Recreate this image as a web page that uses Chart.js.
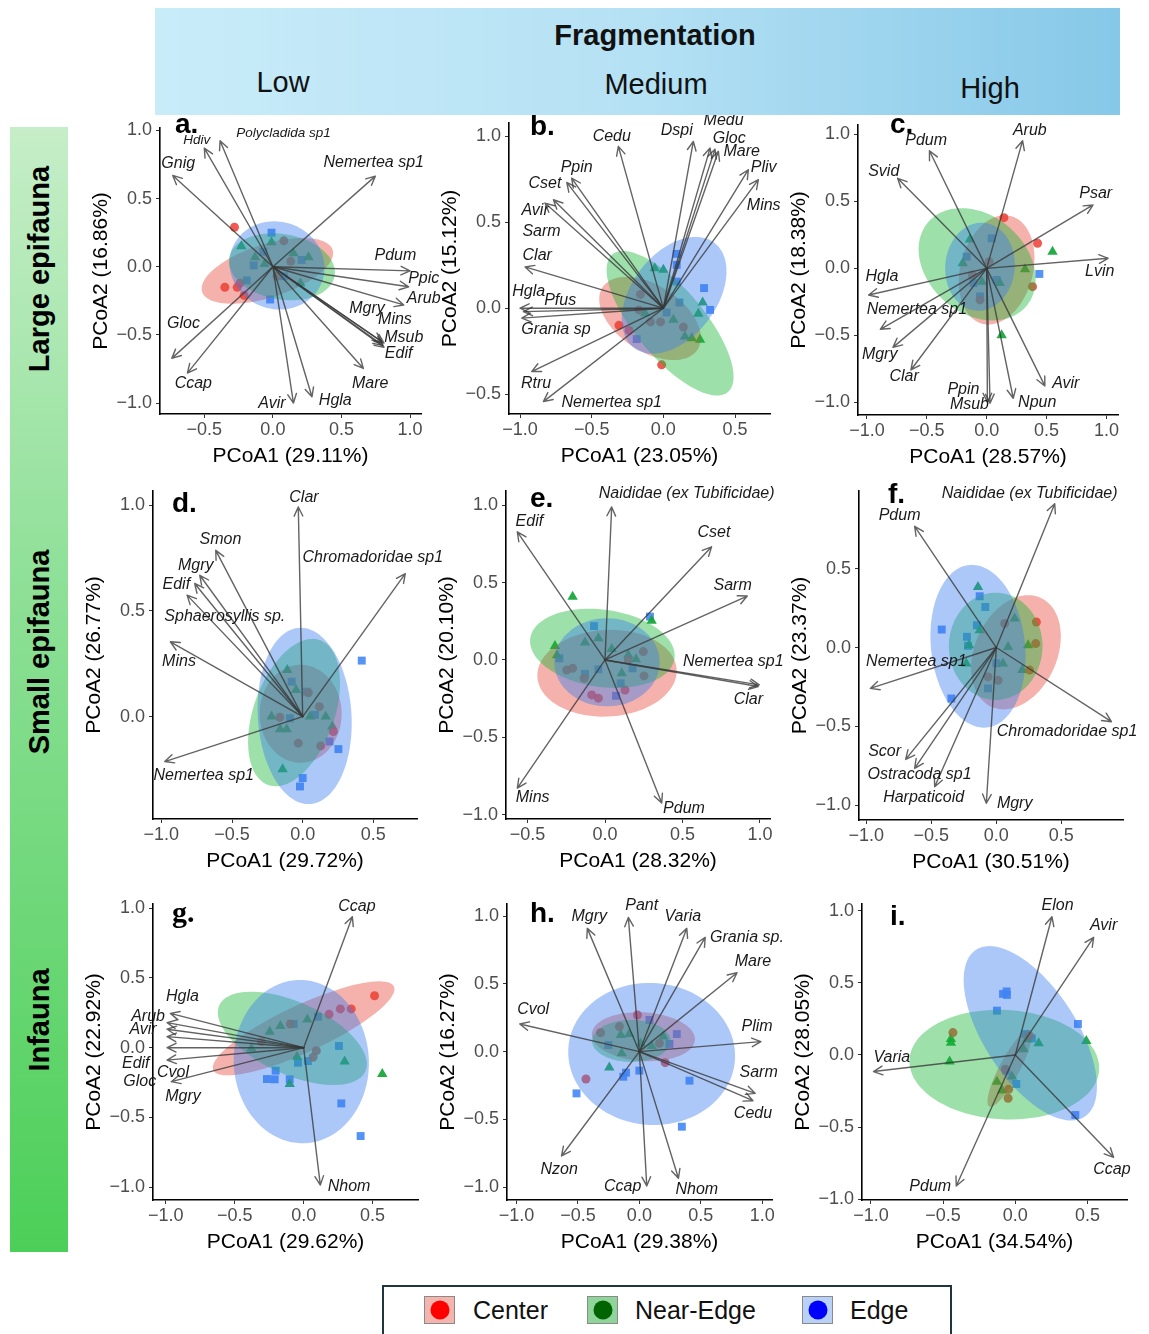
<!DOCTYPE html>
<html><head><meta charset="utf-8">
<script src="https://cdn.jsdelivr.net/npm/chart.js@4.4.1/dist/chart.umd.min.js"></script>
<style>
html,body{margin:0;padding:0;background:#fff;width:1149px;height:1334px;overflow:hidden;position:relative;font-family:"Liberation Sans",Arial,sans-serif}
canvas{position:absolute}
#banner{position:absolute;left:155px;top:8px;width:965px;height:107px;background:linear-gradient(90deg,#c9ecf9 0%,#b5e1f4 50%,#86c8e8 100%);z-index:10}
.hd{position:absolute;white-space:nowrap;transform:translateX(-50%);color:#111;line-height:29px;font-size:29px}
#side{position:absolute;left:10px;top:127px;width:58px;height:1125px;background:linear-gradient(180deg,#c6eec8 0%,#8fe098 40%,#4ccf58 100%);z-index:10}
.sl{position:absolute;left:29px;white-space:nowrap;font-weight:bold;font-size:29px;color:#000;transform:translate(-50%,-50%) rotate(-90deg);line-height:30px}
#legend{position:absolute;left:382px;top:1285px;width:566px;height:70px;border:2px solid #1f3540;background:#fff;z-index:10}
.sw{position:absolute;top:9px;width:31px;height:28px;border:1px solid #8a8a8a;box-sizing:border-box}
.sw i{position:absolute;left:50%;top:50%;width:19px;height:19px;border-radius:50%;transform:translate(-50%,-50%)}
.lt{position:absolute;top:8px;font-size:25px;line-height:30px;color:#111}
</style></head>
<body>
<div id="banner">
  <div class="hd" style="left:500px;top:13px;font-weight:bold">Fragmentation</div>
  <div class="hd" style="left:128px;top:60px">Low</div>
  <div class="hd" style="left:501px;top:62px">Medium</div>
  <div class="hd" style="left:835px;top:66px">High</div>
</div>
<div id="side">
  <div class="sl" style="top:142px">Large epifauna</div>
  <div class="sl" style="top:525px">Small epifauna</div>
  <div class="sl" style="top:893px">Infauna</div>
</div>
<div id="legend">
  <span class="sw" style="left:40px;background:#f5b5af"><i style="background:#ff0000"></i></span><span class="lt" style="left:89px">Center</span>
  <span class="sw" style="left:203px;background:#8fd49b"><i style="background:#006400"></i></span><span class="lt" style="left:251px">Near-Edge</span>
  <span class="sw" style="left:418px;background:#b9d1f6"><i style="background:#0000ff"></i></span><span class="lt" style="left:466px">Edge</span>
</div>
<script>
// ---------- DATA ----------
const groups = ["Center","Near-Edge","Edge"];

// Panel a
const centerA = [[-0.28,0.29],[-0.35,-0.15],[-0.26,-0.15],[-0.21,-0.21],[-0.24,-0.12],[0.08,0.19],[0.13,0.04],[0.03,-0.07]];
const nearEdgeA = [[-0.23,0.15],[-0.13,0.07],[-0.01,0.18],[0.15,0.10],[0.26,0.07],[-0.06,0.02],[0.20,-0.12]];
const edgeA = [[-0.01,0.25],[-0.07,0.11],[-0.14,0.01],[-0.19,-0.10],[-0.02,-0.24],[0.21,0.05],[0.08,-0.07]];
const speciesA = ["Hdiv","Polycladida sp1","Gnig","Nemertea sp1","Pdum","Ppic","Arub","Mgry","Mins","Msub","Edif","Mare","Hgla","Avir","Ccap","Gloc"];
const tipsA = [[-0.50,0.87],[-0.385,0.924],[-0.73,0.67],[0.747,0.665],[1.0,-0.03],[0.99,-0.147],[0.954,-0.28],[0.795,-0.55],[0.81,-0.56],[0.80,-0.575],[0.81,-0.59],[0.66,-0.746],[0.285,-0.954],[0.15,-1.0],[-0.623,-0.78],[-0.737,-0.672]];
const labelPosA = [[-0.555,0.93],[0.078,0.98],[-0.69,0.76],[0.735,0.763],[0.893,0.08],[1.10,-0.085],[1.10,-0.23],[0.686,-0.306],[0.89,-0.386],[0.954,-0.518],[0.917,-0.636],[0.71,-0.856],[0.455,-0.98],[-0.007,-1.0],[-0.58,-0.856],[-0.652,-0.416]];
const ellipsesA = [[-0.04,-0.03,0.50,0.195,18],[0.066,0.0,0.39,0.24,-10],[0.03,0.01,0.35,0.32,-20]];
const xTicksA = [-0.5,0,0.5,1.0], yTicksA = [-1,-0.5,0,0.5,1];
const xTitleA = "PCoA1 (29.11%)", yTitleA = "PCoA2 (16.86%)";

// Panel b
const centerB = [[-0.012,-0.33],[-0.31,-0.10],[-0.24,-0.13],[-0.16,0.08],[-0.09,-0.08],[-0.02,-0.08],[0.14,-0.11],[-0.17,-0.01]];
const nearEdgeB = [[-0.06,0.233],[0.0,0.223],[0.07,-0.068],[0.244,-0.033],[0.274,0.033],[0.15,-0.165],[0.198,-0.175],[0.256,-0.184],[-0.128,-0.03]];
const edgeB = [[0.093,0.316],[0.093,0.252],[0.093,0.155],[0.284,0.117],[0.112,0.033],[0.326,-0.01],[0.023,-0.025],[-0.186,-0.18]];
const speciesB = ["Cedu","Dspi","Medu","Gloc","Mare","Pliv","Mins","Ppin","Cset","Avir","Sarm","Clar","Hgla","Pfus","Grania sp","Rtru","Nemertea sp1"];
const tipsB = [[-0.314,0.942],[0.209,0.971],[0.326,0.932],[0.36,0.926],[0.384,0.913],[0.593,0.806],[0.663,0.748],[-0.64,0.757],[-0.674,0.732],[-0.767,0.631],[-0.826,0.612],[-0.965,0.24],[-1.0,0.0],[-0.977,-0.02],[-0.988,-0.058],[-0.919,-0.369],[-0.837,-0.544]];
const labelPosB = [[-0.36,1.0],[0.093,1.035],[0.42,1.09],[0.46,0.99],[0.547,0.913],[0.70,0.816],[0.70,0.596],[-0.605,0.816],[-0.826,0.724],[-0.895,0.567],[-0.85,0.447],[-0.88,0.307],[-0.94,0.097],[-0.72,0.045],[-0.75,-0.126],[-0.888,-0.437],[-0.36,-0.55]];
const ellipsesB = [[-0.093,-0.06,0.38,0.2,-25],[0.047,-0.088,0.57,0.22,-43],[0.075,0.075,0.42,0.27,40]];
const xTicksB = [-1,-0.5,0,0.5], yTicksB = [-0.5,0,0.5,1];
const xTitleB = "PCoA1 (23.05%)", yTitleB = "PCoA2 (15.12%)";

// Panel c
const centerC = [[0.144,0.378],[0.425,0.187],[0.383,-0.137],[-0.056,-0.236],[0.02,0.05],[-0.12,-0.05]];
const nearEdgeC = [[0.55,0.124],[0.32,-0.007],[0.125,-0.5],[-0.2,0.037],[-0.14,0.216],[-0.04,-0.1],[0.11,-0.11]];
const edgeC = [[0.44,-0.042],[0.042,0.224],[-0.167,0.087],[-0.11,-0.11],[-0.056,-0.21],[0.083,-0.087]];
const speciesC = ["Arub","Pdum","Svid","Psar","Lvin","Hgla","Nemertea sp1","Mgry","Clar","Ppin","Msub","Npun","Avir"];
const tipsC = [[0.30,0.953],[-0.478,0.878],[-0.744,0.672],[0.889,0.473],[1.014,0.075],[-0.986,-0.199],[-0.889,-0.455],[-0.783,-0.59],[-0.633,-0.759],[0.006,-1.0],[0.028,-1.007],[0.222,-0.97],[0.486,-0.878]];
const labelPosC = [[0.36,1.027],[-0.506,0.953],[-0.86,0.721],[0.911,0.555],[0.944,-0.025],[-0.875,-0.062],[-0.583,-0.311],[-0.894,-0.647],[-0.69,-0.808],[-0.194,-0.908],[-0.144,-1.02],[0.422,-1.0],[0.661,-0.858]];
const ellipsesC = [[0.083,-0.012,0.42,0.3,70],[-0.08,0.03,0.52,0.38,-30],[-0.056,0.012,0.33,0.29,80]];
const xTicksC = [-1,-0.5,0,0.5,1], yTicksC = [-1,-0.5,0,0.5,1];
const xTitleC = "PCoA1 (28.57%)", yTitleC = "PCoA2 (18.38%)";

// Panel d
const centerD = [[-0.161,-0.003],[-0.031,-0.126],[0.128,-0.139],[0.217,-0.071],[0.118,0.047],[0.04,0.113]];
const nearEdgeD = [[-0.109,0.22],[-0.142,-0.249],[-0.22,0.0],[-0.113,-0.06],[0.052,0.0],[0.163,0.0],[0.21,-0.047],[-0.047,0.126],[-0.16,-0.06]];
const edgeD = [[0.418,0.265],[0.253,-0.154],[0.19,-0.118],[0.0,-0.291],[-0.019,-0.331],[-0.078,0.165],[0.028,0.118],[-0.09,-0.008],[0.087,0.008]];
const speciesD = ["Clar","Smon","Mgry","Edif","Sphaerosyllis sp.","Mins","Nemertea sp1","Chromadoridae sp1"];
const tipsD = [[-0.031,0.992],[-0.615,0.787],[-0.728,0.669],[-0.764,0.63],[-0.818,0.575],[-0.936,0.354],[-0.976,-0.213],[0.726,0.677]];
const labelPosD = [[0.009,1.036],[-0.582,0.838],[-0.757,0.717],[-0.894,0.625],[-0.551,0.472],[-0.875,0.26],[-0.70,-0.28],[0.496,0.753]];
const ellipsesD = [[-0.014,0.013,0.29,0.232,0],[-0.061,0.019,0.40,0.26,50],[0.014,0.003,0.42,0.33,100]];
const xTicksD = [-1,-0.5,0,0.5], yTicksD = [0,0.5,1];
const xTitleD = "PCoA1 (29.72%)", yTitleD = "PCoA2 (26.77%)";

// Panel e
const centerE = [[0.247,0.054],[0.252,-0.103],[0.129,-0.194],[-0.086,-0.226],[-0.043,-0.247],[-0.247,-0.065],[-0.209,-0.054],[-0.135,-0.118],[0.15,0.0]];
const nearEdgeE = [[-0.209,0.409],[0.301,0.254],[-0.323,0.09],[-0.129,0.112],[-0.043,0.14],[0.043,0.071],[0.15,0.032],[0.2,0.004],[0.108,-0.086],[-0.31,0.03]];
const edgeE = [[0.29,0.28],[-0.071,0.219],[-0.295,0.011],[-0.129,-0.09],[-0.043,-0.06],[0.178,-0.054],[0.101,-0.151],[0.071,-0.232]];
const speciesE = ["Naididae (ex Tubificidae)","Edif","Cset","Sarm","Nemertea sp1","Clar","Mins","Pdum"];
const tipsE = [[0.043,0.989],[-0.566,0.828],[0.688,0.731],[0.918,0.413],[0.996,-0.161],[0.989,-0.172],[-0.566,-0.828],[0.366,-0.925]];
const labelPosE = [[0.527,1.075],[-0.488,0.892],[0.703,0.822],[0.824,0.484],[0.828,-0.011],[0.925,-0.254],[-0.467,-0.892],[0.51,-0.963]];
const ellipsesE = [[0.013,-0.086,0.45,0.28,3],[-0.017,0.075,0.47,0.25,-8],[0.013,-0.015,0.34,0.285,0]];
const xTicksE = [-0.5,0,0.5,1], yTicksE = [-1,-0.5,0,0.5,1];
const xTitleE = "PCoA1 (28.32%)", yTitleE = "PCoA2 (20.10%)";

// Panel f
const centerF = [[0.308,0.162],[0.303,0.025],[0.256,-0.143],[0.013,-0.207],[-0.064,-0.186],[0.064,0.152]];
const nearEdgeF = [[-0.141,0.384],[-0.128,0.11],[-0.21,0.015],[-0.231,-0.101],[0.051,-0.101],[0.141,0.184],[0.244,0.015],[0.2,-0.143],[0.09,0.004]];
const edgeF = [[-0.42,0.114],[-0.346,-0.323],[-0.128,0.325],[-0.085,0.257],[-0.149,0.141],[-0.226,0.068],[-0.218,0.011],[-0.064,-0.259],[0.0,-0.1]];
const speciesF = ["Naididae (ex Tubificidae)","Pdum","Nemertea sp1","Chromadoridae sp1","Scor","Ostracoda sp1","Harpaticoid","Mgry"];
const tipsF = [[0.449,0.911],[-0.628,0.768],[-0.969,-0.259],[0.885,-0.47],[-0.697,-0.709],[-0.628,-0.766],[-0.474,-0.882],[-0.077,-0.987]];
const labelPosF = [[0.256,0.975],[-0.744,0.838],[-0.615,-0.091],[0.544,-0.534],[-0.859,-0.66],[-0.59,-0.808],[-0.559,-0.949],[0.141,-0.987]];
const ellipsesF = [[0.151,-0.03,0.40,0.30,50],[-0.005,0.008,0.36,0.34,0],[-0.141,0.008,0.52,0.36,100]];
const xTicksF = [-1,-0.5,0,0.5], yTicksF = [-1,-0.5,0,0.5];
const xTitleF = "PCoA1 (30.51%)", yTitleF = "PCoA2 (23.37%)";

// Panel g
const centerG = [[0.514,0.373],[0.345,0.278],[0.266,0.278],[0.184,0.239],[0.092,-0.022],[0.068,-0.069],[-0.097,0.17],[-0.307,0.043]];
const nearEdgeG = [[0.57,-0.189],[0.297,-0.1],[0.027,0.203],[-0.169,0.156],[-0.246,0.115],[-0.379,-0.005],[-0.101,-0.261],[-0.048,-0.065]];
const edgeG = [[0.413,-0.634],[0.273,-0.4],[0.256,0.012],[0.104,0.222],[-0.072,0.17],[-0.266,-0.225],[-0.21,-0.227],[-0.203,-0.165],[-0.101,-0.227],[-0.041,-0.108],[0.031,-0.096]];
const speciesG = ["Ccap","Nhom","Hgla","Arub","Avir","Gloc","Edif","Cvol","Mgry"];
const tipsG = [[0.353,0.94],[0.121,-0.986],[-0.966,0.246],[-0.99,0.18],[-0.99,0.132],[-0.99,0.079],[-0.99,0.0],[-0.99,-0.089],[-0.959,-0.244]];
const labelPosG = [[0.386,1.012],[0.329,-0.998],[-0.879,0.366],[-1.128,0.222],[-1.164,0.132],[-1.188,-0.244],[-1.217,-0.112],[-0.947,-0.179],[-0.874,-0.352]];
const ellipsesG = [[0.0,0.139,0.72,0.17,24.6],[-0.082,0.067,0.58,0.26,-24],[-0.017,-0.1,0.586,0.49,93]];
const xTicksG = [-1,-0.5,0,0.5], yTicksG = [-1,-0.5,0,0.5,1];
const xTitleG = "PCoA1 (29.62%)", yTitleG = "PCoA2 (22.92%)";

// Panel h
const centerH = [[-0.016,0.271],[-0.163,0.185],[-0.316,0.14],[-0.435,-0.202],[0.163,0.062],[0.21,-0.081]];
const nearEdgeH = [[-0.245,-0.116],[-0.144,-0.012],[-0.082,0.13],[0.1,0.042],[0.196,0.111],[-0.152,0.123],[0.01,0.06]];
const edgeH = [[-0.512,-0.308],[-0.131,-0.185],[-0.109,-0.155],[0.0,-0.14],[0.408,-0.214],[0.346,-0.554],[0.082,0.234],[0.305,0.13],[0.245,0.057],[-0.253,0.049]];
const speciesH = ["Mgry","Pant","Varia","Grania sp.","Mare","Plim","Sarm","Cedu","Cvol","Nzon","Ccap","Nhom"];
const tipsH = [[-0.424,0.91],[-0.09,0.991],[0.386,0.91],[0.536,0.844],[0.795,0.583],[0.99,0.074],[0.944,-0.308],[0.925,-0.362],[-0.974,0.204],[-0.634,-0.77],[0.06,-0.991],[0.318,-0.935]];
const labelPosH = [[-0.408,0.996],[0.019,1.075],[0.354,1.001],[0.876,0.844],[0.925,0.664],[0.958,0.185],[0.971,-0.155],[0.925,-0.46],[-0.865,0.308],[-0.653,-0.873],[-0.136,-0.996],[0.468,-1.016]];
const ellipsesH = [[0.033,0.11,0.42,0.18,-3],[-0.065,0.079,0.32,0.155,0],[0.1,-0.017,0.68,0.524,-3]];
const xTicksH = [-1,-0.5,0,0.5,1], yTicksH = [-1,-0.5,0,0.5,1];
const xTitleH = "PCoA1 (29.38%)", yTitleH = "PCoA2 (16.27%)";

// Panel i
const centerI = [[-0.432,0.155],[-0.046,-0.238],[-0.069,-0.099],[0.099,0.132],[-0.05,-0.3]];
const nearEdgeI = [[-0.446,0.085],[-0.446,0.11],[-0.455,-0.046],[0.492,0.097],[0.162,0.081],[0.081,0.109],[0.058,0.039],[-0.127,-0.185],[-0.092,-0.247],[-0.023,-0.15]];
const edgeI = [[-0.085,0.423],[-0.058,0.416],[-0.06,0.44],[-0.127,0.307],[0.434,0.215],[0.416,-0.416],[0.069,0.145],[0.115,0.115],[0.007,-0.201],[-0.062,-0.109]];
const speciesI = ["Elon","Avir","Varia","Ccap","Pdum"];
const tipsI = [[0.254,0.958],[0.543,0.815],[-0.982,-0.115],[0.681,-0.709],[-0.409,-0.908]];
const labelPosI = [[0.293,1.032],[0.612,0.894],[-0.855,-0.016],[0.67,-0.792],[-0.589,-0.912]];
const ellipsesI = [[-0.039,-0.092,0.30,0.07,62],[-0.076,-0.067,0.658,0.379,-3],[0.104,0.15,0.69,0.32,-57]];
const xTicksI = [-1,-0.5,0,0.5], yTicksI = [-1,-0.5,0,0.5,1];
const xTitleI = "PCoA1 (34.54%)", yTitleI = "PCoA2 (28.05%)";

// ---------- LAYOUT (page pixels of each plot area, axis limits) ----------
const panels = [
 {tag:"a.", area:[160,128,421,414], xr:[-0.823,1.08], yr:[-1.08,1.018], lab:[15,5], c:centerA,n:nearEdgeA,e:edgeA,sp:speciesA,t:tipsA,lp:labelPosA,el:ellipsesA,xt:xTicksA,yt:yTicksA,xT:xTitleA,yT:yTitleA, small:["Hdiv","Polycladida sp1"]},
 {tag:"b.", area:[509,123,770,414], xr:[-1.077,0.744], yr:[-0.616,1.078], lab:[21,12], c:centerB,n:nearEdgeB,e:edgeB,sp:speciesB,t:tipsB,lp:labelPosB,el:ellipsesB,xt:xTicksB,yt:yTicksB,xT:xTitleB,yT:yTitleB},
 {tag:"c.", area:[858,125,1118,415], xr:[-1.075,1.097], yr:[-1.095,1.07], lab:[32,8], c:centerC,n:nearEdgeC,e:edgeC,sp:speciesC,t:tipsC,lp:labelPosC,el:ellipsesC,xt:xTicksC,yt:yTicksC,xT:xTitleC,yT:yTitleC},
 {tag:"d.", area:[153,491,417,819], xr:[-1.059,0.809], yr:[-0.485,1.068], lab:[19,21], c:centerD,n:nearEdgeD,e:edgeD,sp:speciesD,t:tipsD,lp:labelPosD,el:ellipsesD,xt:xTicksD,yt:yTicksD,xT:xTitleD,yT:yTitleD},
 {tag:"e.", area:[506,491,770,819], xr:[-0.639,1.065], yr:[-1.028,1.092], lab:[24,16], c:centerE,n:nearEdgeE,e:edgeE,sp:speciesE,t:tipsE,lp:labelPosE,el:ellipsesE,xt:xTicksE,yt:yTicksE,xT:xTitleE,yT:yTitleE},
 {tag:"f.", area:[859,491,1123,820], xr:[-1.056,0.974], yr:[-1.093,0.992], lab:[29,12], c:centerF,n:nearEdgeF,e:edgeF,sp:speciesF,t:tipsF,lp:labelPosF,el:ellipsesF,xt:xTicksF,yt:yTicksF,xT:xTitleF,yT:yTitleF},
 {tag:"g.", area:[153,904,418,1200], xr:[-1.092,0.829], yr:[-1.093,1.031], lab:[19,18], serif:true, c:centerG,n:nearEdgeG,e:edgeG,sp:speciesG,t:tipsG,lp:labelPosG,el:ellipsesG,xt:xTicksG,yt:yTicksG,xT:xTitleG,yT:yTitleG},
 {tag:"h.", area:[507,904,772,1200], xr:[-1.078,1.08], yr:[-1.095,1.09], lab:[23,18], c:centerH,n:nearEdgeH,e:edgeH,sp:speciesH,t:tipsH,lp:labelPosH,el:ellipsesH,xt:xTicksH,yt:yTicksH,xT:xTitleH,yT:yTitleH},
 {tag:"i.", area:[862,904,1127,1200], xr:[-1.062,0.774], yr:[-1.005,1.046], lab:[28,21], c:centerI,n:nearEdgeI,e:edgeI,sp:speciesI,t:tipsI,lp:labelPosI,el:ellipsesI,xt:xTicksI,yt:yTicksI,xT:xTitleI,yT:yTitleI}
];

const FONT = '"Liberation Sans", Arial, sans-serif';
const POINT_COLORS = ['rgba(238,72,62,0.9)','rgba(18,165,55,0.92)','rgba(72,138,245,0.92)'];
const ELL_FILL = ['rgba(232,68,56,0.42)','rgba(22,182,52,0.42)','rgba(58,124,238,0.42)'];
const PAD_L = 20, YW = 71, PAD_T = 40, PAD_R = 70, XH = 55, PAD_B = 10;

const fmt = v => (v < 0 ? '\u2212' : '') + Math.abs(v).toFixed(1);
const toXY = arr => arr.map(p => ({x:p[0], y:p[1]}));

function biplotPlugin(p){
  return {
    id:'biplot',
    afterDatasetsDraw(chart){
      const {ctx, scales:{x, y}, chartArea} = chart;
      ctx.save();
      // confidence ellipses (drawn over the points, like the original)
      p.el.forEach((e, gi) => {
        const [cx, cy, a, b, ang] = e; const t = ang * Math.PI / 180;
        ctx.beginPath();
        for (let k = 0; k <= 90; k++) {
          const s = k / 90 * 2 * Math.PI, dx = a * Math.cos(s), dy = b * Math.sin(s);
          const px = x.getPixelForValue(cx + dx * Math.cos(t) - dy * Math.sin(t));
          const py = y.getPixelForValue(cy + dx * Math.sin(t) + dy * Math.cos(t));
          k ? ctx.lineTo(px, py) : ctx.moveTo(px, py);
        }
        ctx.closePath(); ctx.fillStyle = ELL_FILL[gi]; ctx.fill();
      });
      // species vectors
      const ox = x.getPixelForValue(0), oy = y.getPixelForValue(0);
      ctx.strokeStyle = 'rgba(55,55,55,0.78)'; ctx.lineWidth = 1.4; ctx.lineCap = 'round'; ctx.lineJoin = 'round';
      p.t.forEach(tp => {
        const x1 = x.getPixelForValue(tp[0]), y1 = y.getPixelForValue(tp[1]);
        const ang = Math.atan2(y1 - oy, x1 - ox), L = 10, A = Math.PI / 7;
        ctx.beginPath(); ctx.moveTo(ox, oy); ctx.lineTo(x1, y1);
        ctx.moveTo(x1 - L * Math.cos(ang - A), y1 - L * Math.sin(ang - A));
        ctx.lineTo(x1, y1);
        ctx.lineTo(x1 - L * Math.cos(ang + A), y1 - L * Math.sin(ang + A));
        ctx.stroke();
      });
      // species labels
      ctx.fillStyle = '#1a1a1a'; ctx.textAlign = 'center'; ctx.textBaseline = 'middle';
      p.sp.forEach((name, i) => {
        const sz = (p.small && p.small.includes(name)) ? 13.5 : 16;
        ctx.font = 'italic ' + sz + 'px ' + FONT;
        ctx.fillText(name, x.getPixelForValue(p.lp[i][0]), y.getPixelForValue(p.lp[i][1]));
      });
      // panel tag
      ctx.fillStyle = '#000'; ctx.textAlign = 'left'; ctx.textBaseline = 'alphabetic';
      ctx.font = p.serif ? 'bold 30px "Liberation Serif", serif' : 'bold 28px ' + FONT;
      ctx.fillText(p.tag, chartArea.left + p.lab[0], chartArea.top + p.lab[1]);
      ctx.restore();
    }
  };
}

panels.forEach(p => {
  const [L, T, R, B] = p.area;
  const w = (R - L) + PAD_L + YW + PAD_R, h = (B - T) + PAD_T + XH + PAD_B;
  const cv = document.createElement('canvas');
  cv.width = w; cv.height = h;
  cv.style.left = (L - PAD_L - YW) + 'px'; cv.style.top = (T - PAD_T) + 'px';
  cv.style.width = w + 'px'; cv.style.height = h + 'px';
  document.body.appendChild(cv);
  const axisCommon = {
    type:'linear',
    grid:{drawOnChartArea:false, drawTicks:true, tickLength:4, color:'#333', lineWidth:1},
    border:{display:true, color:'#000', width:1.6},
  };
  new Chart(cv, {
    type:'scatter',
    data:{datasets:[
      {label:groups[0], data:toXY(p.c), pointStyle:'circle', pointRadius:4.5, backgroundColor:POINT_COLORS[0], borderWidth:0},
      {label:groups[1], data:toXY(p.n), pointStyle:'triangle', pointRadius:6, backgroundColor:POINT_COLORS[1], borderWidth:0},
      {label:groups[2], data:toXY(p.e), pointStyle:'rect', pointRadius:5.6, backgroundColor:POINT_COLORS[2], borderWidth:0}
    ]},
    options:{
      responsive:false, animation:false, events:[],
      layout:{padding:{left:PAD_L, top:PAD_T, right:PAD_R, bottom:PAD_B}},
      plugins:{legend:{display:false}, tooltip:{enabled:false}},
      scales:{
        x:Object.assign({}, axisCommon, {
          position:'bottom', min:p.xr[0], max:p.xr[1],
          afterBuildTicks:s => { s.ticks = p.xt.map(v => ({value:v})); },
          afterFit:s => { s.height = XH; },
          ticks:{color:'#4d4d4d', font:{size:18, family:FONT}, padding:1, maxRotation:0, autoSkip:false, callback:v => fmt(v)},
          title:{display:true, text:p.xT, color:'#000', font:{size:21, family:FONT}, padding:0}
        }),
        y:Object.assign({}, axisCommon, {
          position:'left', min:p.yr[0], max:p.yr[1],
          afterBuildTicks:s => { s.ticks = p.yt.map(v => ({value:v})); },
          afterFit:s => { s.width = YW; },
          ticks:{color:'#4d4d4d', font:{size:18, family:FONT}, padding:4, autoSkip:false, callback:v => fmt(v)},
          title:{display:true, text:p.yT, color:'#000', font:{size:21, family:FONT}, padding:0}
        })
      }
    },
    plugins:[biplotPlugin(p)]
  });
});
</script>
</body></html>
